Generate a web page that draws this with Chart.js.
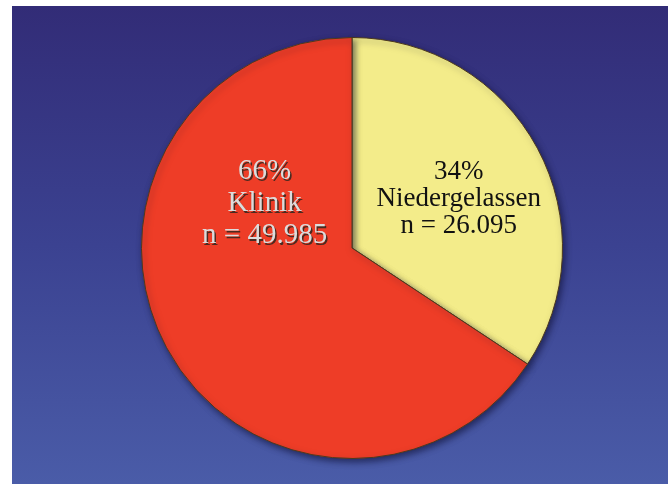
<!DOCTYPE html>
<html>
<head>
<meta charset="utf-8">
<script src="https://cdn.jsdelivr.net/npm/chart.js@4"></script>
<style>
  html, body { margin: 0; padding: 0; background: #ffffff; }
  #wrap { width: 670px; height: 484px; }
</style>
</head>
<body>
<div id="wrap"><canvas id="pie"></canvas></div>
<script>
// Daten
const categories = ['Niedergelassen', 'Klinik'];
const counts = [26095, 49985];
const percentLabels = ['34%', '66%'];
const countLabels = ['n = 26.095', 'n = 49.985'];

const sliceColors = ['#f3ec8a', '#ee3d27'];

// Hintergrund mit Verlauf
const backgroundPlugin = {
  id: 'bg',
  beforeDraw(chart) {
    const ctx = chart.ctx;
    ctx.save();
    ctx.fillStyle = '#ffffff';
    ctx.fillRect(0, 0, chart.width, chart.height);
    const grad = ctx.createLinearGradient(0, 6, 0, chart.height);
    grad.addColorStop(0, '#322c77');
    grad.addColorStop(0.5, '#3b4291');
    grad.addColorStop(1, '#4a5ca8');
    ctx.fillStyle = grad;
    ctx.fillRect(12, 6, 656, chart.height - 6);
    ctx.restore();
  },
  beforeDatasetsDraw(chart) {
    // weicher Schatten unter dem Kreis
    const ctx = chart.ctx;
    ctx.save();
    ctx.shadowColor = 'rgba(10, 10, 40, 0.55)';
    ctx.shadowBlur = 6;
    ctx.shadowOffsetX = 2;
    ctx.shadowOffsetY = 3;
  },
  afterDatasetsDraw(chart) {
    chart.ctx.restore();
  }
};

// Beschriftungen in den Segmenten
const labelPlugin = {
  id: 'sliceLabels',
  afterDatasetsDraw(chart) {
    const ctx = chart.ctx;
    const meta = chart.getDatasetMeta(0);
    // Winkel (Grad) und Abstand (Anteil des Radius) je Segment
    const anchors = [{ angle: -25, dist: 0.56 }, { angle: -152, dist: 0.47 }];
    ctx.save();
    ctx.textAlign = 'center';
    ctx.textBaseline = 'middle';
    meta.data.forEach((arc, i) => {
      const a = anchors[i].angle * Math.PI / 180;
      const r = arc.outerRadius * anchors[i].dist;
      const cx = arc.x + r * Math.cos(a);
      const cy = arc.y + r * Math.sin(a) + (i === 1 ? 2 : 1);
      const lines = [percentLabels[i], categories[i], countLabels[i]];
      const step = i === 0 ? 27 : 32;
      ctx.font = (i === 0 ? 27 : 29) + 'px "Liberation Serif", "Times New Roman", serif';
      lines.forEach((txt, k) => {
        const y = cy + (k - 1) * step;
        if (i === 1) {
          ctx.fillStyle = '#4a2a20';
          ctx.fillText(txt, cx + 1.5, y + 1.5);
          ctx.fillStyle = '#dcdcdc';
          ctx.fillText(txt, cx, y);
        } else {
          ctx.fillStyle = '#111111';
          ctx.fillText(txt, cx, y);
        }
      });
    });
    ctx.restore();
  }
};

new Chart(document.getElementById('pie'), {
  type: 'pie',
  data: {
    labels: categories,
    datasets: [{
      data: counts,
      backgroundColor: sliceColors,
      borderColor: '#4d3a1e',
      borderWidth: 1
    }]
  },
  options: {
    responsive: true,
    maintainAspectRatio: false,
    animation: false,
    layout: { padding: { top: 37, bottom: 25, left: 141, right: 107 } },
    plugins: {
      legend: { display: false },
      tooltip: { enabled: false }
    }
  },
  plugins: [backgroundPlugin, labelPlugin]
});
</script>
</body>
</html>
